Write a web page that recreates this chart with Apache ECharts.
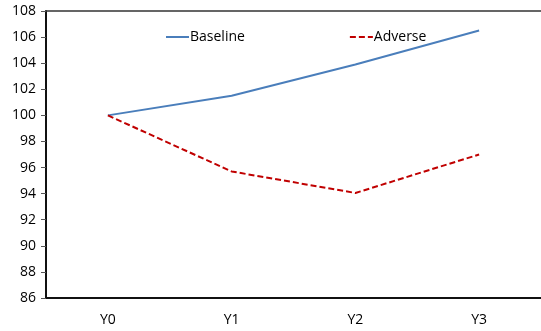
<!DOCTYPE html>
<html>
<head>
<meta charset="utf-8">
<script src="https://cdn.jsdelivr.net/npm/echarts@6/dist/echarts.min.js"></script>
<style>
  html, body { margin: 0; padding: 0; background: #fff; }
  #chart { width: 541px; height: 331px; }
</style>
</head>
<body>
<div id="chart"></div>
<script>
const categories = ['Y0', 'Y1', 'Y2', 'Y3'];
const baseline = [100, 101.5, 103.9, 106.5];
const adverse = [100, 95.7, 94.05, 97.0];
const yMin = 86, yMax = 108, yStep = 2;

const font = '"Open Sans", "Noto Sans", sans-serif';
const axisColor = '#111';

const chart = echarts.init(document.getElementById('chart'));
chart.setOption({
  animation: false,
  textStyle: { fontFamily: font },
  grid: { left: 46, right: 0, top: 11, bottom: 33, containLabel: false },
  legend: {
    left: 160, top: 25,
    itemWidth: 23, itemHeight: 10, itemGap: 104,
    textStyle: { fontSize: 14, color: '#000', fontFamily: font, padding: [0, 0, 0, -4] },
    data: [
      { name: 'Baseline', itemStyle: { opacity: 0 } },
      { name: 'Adverse', itemStyle: { opacity: 0 } }
    ]
  },
  xAxis: [{
    type: 'category',
    data: categories,
    boundaryGap: true,
    axisLine: { lineStyle: { color: axisColor, width: 2 } },
    axisTick: { inside: true, length: 5, lineStyle: { color: '#555' } },
    axisLabel: { fontSize: 14, color: '#000', margin: 15, fontFamily: font }
  }, {
    type: 'category',
    data: categories,
    position: 'top',
    axisLine: { lineStyle: { color: '#333', width: 1.5 } },
    axisTick: { show: false },
    axisLabel: { show: false }
  }],
  yAxis: {
    type: 'value',
    min: yMin, max: yMax, interval: yStep,
    axisLine: { show: true, lineStyle: { color: axisColor, width: 2 } },
    axisTick: { show: true, length: 5, lineStyle: { color: '#555' } },
    splitLine: { show: false },
    axisLabel: { fontSize: 14, color: '#000', margin: 10, fontFamily: font }
  },
  series: [{
    name: 'Baseline',
    type: 'line',
    data: baseline,
    symbol: 'none',
    lineStyle: { color: '#4A7EBB', width: 2 },
    itemStyle: { color: '#4A7EBB' }
  }, {
    name: 'Adverse',
    type: 'line',
    data: adverse,
    symbol: 'none',
    lineStyle: { color: '#C00000', width: 2, type: [6, 3] },
    itemStyle: { color: '#C00000' }
  }]
});
</script>
</body>
</html>
